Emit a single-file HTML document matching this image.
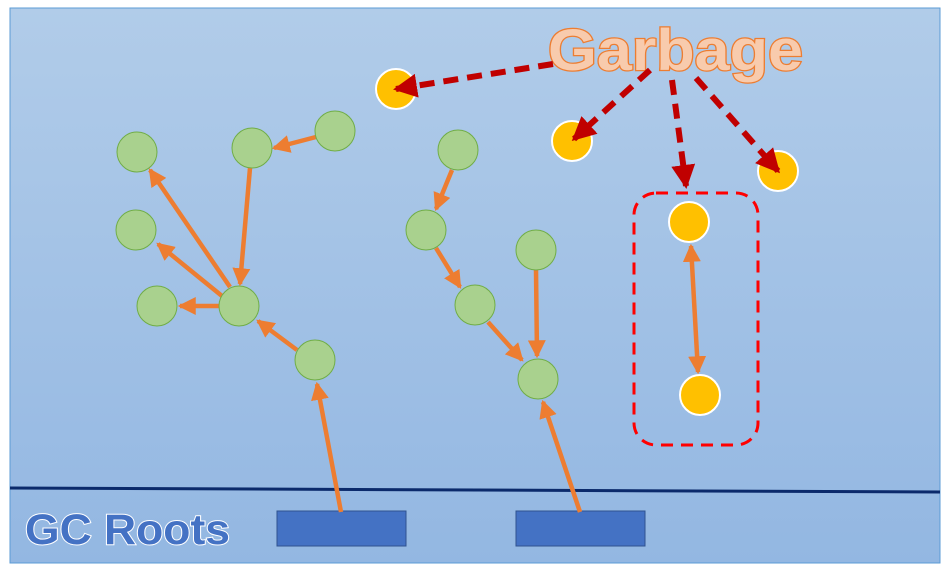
<!DOCTYPE html>
<html><head><style>body{margin:0;background:#fff}svg{display:block}</style></head><body>
<svg width="952" height="578" xmlns="http://www.w3.org/2000/svg">
<defs>
<linearGradient id="bg" x1="0" y1="0" x2="0" y2="1"><stop offset="0" stop-color="#b1cce9"/><stop offset="1" stop-color="#93b7e2"/></linearGradient>
<marker id="oa" markerWidth="4" markerHeight="4" refX="3.5" refY="2" orient="auto" markerUnits="strokeWidth"><path d="M0,0 L4,2 L0,4z" fill="#ed7d31"/></marker>
<marker id="ob" markerWidth="4" markerHeight="4" refX="0.5" refY="2" orient="auto" markerUnits="strokeWidth"><path d="M4,0 L0,2 L4,4z" fill="#ed7d31"/></marker>
<marker id="ra" markerWidth="4" markerHeight="4" refX="3.5" refY="2" orient="auto" markerUnits="strokeWidth"><path d="M0,0 L4,2 L0,4z" fill="#c00000"/></marker>
</defs>
<rect x="10" y="8" width="930" height="555" fill="url(#bg)" stroke="#5b9bd5" stroke-width="1"/>
<line x1="10" y1="488" x2="940" y2="492" stroke="#0b2a6b" stroke-width="3"/>
<rect x="277" y="511" width="129" height="35" fill="#4472c4" stroke="#2f528f"/>
<rect x="516" y="511" width="129" height="35" fill="#4472c4" stroke="#2f528f"/>
<text x="25" y="544" font-family="Liberation Sans, sans-serif" font-weight="bold" font-size="43" textLength="205" lengthAdjust="spacingAndGlyphs" fill="#4472c4" stroke="#fff" stroke-width="2" paint-order="stroke">GC Roots</text>
<text x="548" y="70" font-family="Liberation Sans, sans-serif" font-weight="bold" font-size="58" textLength="255" lengthAdjust="spacingAndGlyphs" fill="#f8cbad" stroke="#ed7d31" stroke-width="2.5" paint-order="stroke">Garbage</text>
<rect x="634" y="193" width="124" height="252" rx="22" fill="none" stroke="#ff0000" stroke-width="3" stroke-dasharray="12,8"/>
<g stroke="#ed7d31" stroke-width="4.5" fill="none" marker-end="url(#oa)">
<line x1="341" y1="512" x2="317" y2="384"/>
<line x1="297" y1="350" x2="258" y2="321"/>
<line x1="219" y1="306" x2="180" y2="306"/>
<line x1="222" y1="296" x2="158" y2="244"/>
<line x1="230" y1="287" x2="150" y2="170"/>
<line x1="250" y1="168" x2="240" y2="284"/>
<line x1="316" y1="137" x2="274" y2="148"/>
<line x1="452" y1="170" x2="436" y2="209"/>
<line x1="436" y1="248" x2="460" y2="287"/>
<line x1="488" y1="322" x2="522" y2="360"/>
<line x1="536" y1="270" x2="537" y2="356"/>
<line x1="580" y1="512" x2="543" y2="402"/>
<line x1="691" y1="246" x2="698" y2="372" marker-start="url(#ob)"/>
</g>
<g fill="#a9d18e" stroke="#70ad47" stroke-width="1">
<circle cx="137" cy="152" r="20"/><circle cx="252" cy="148" r="20"/><circle cx="335" cy="131" r="20"/>
<circle cx="136" cy="230" r="20"/><circle cx="157" cy="306" r="20"/><circle cx="239" cy="306" r="20"/>
<circle cx="315" cy="360" r="20"/><circle cx="458" cy="150" r="20"/><circle cx="426" cy="230" r="20"/>
<circle cx="475" cy="305" r="20"/><circle cx="536" cy="250" r="20"/><circle cx="538" cy="379" r="20"/>
</g>
<g fill="#ffc000" stroke="#fff" stroke-width="2">
<circle cx="396" cy="89" r="20"/><circle cx="572" cy="141" r="20"/><circle cx="778" cy="171" r="20"/>
<circle cx="689" cy="222" r="20"/><circle cx="700" cy="395" r="20"/>
</g>
<g stroke="#c00000" stroke-width="6" fill="none" stroke-dasharray="15,9" marker-end="url(#ra)">
<line x1="553" y1="64" x2="396" y2="89"/>
<line x1="650" y1="70" x2="574" y2="139"/>
<line x1="672" y1="80" x2="686" y2="186"/>
<line x1="696" y1="78" x2="778" y2="171"/>
</g>
</svg>
</body></html>
